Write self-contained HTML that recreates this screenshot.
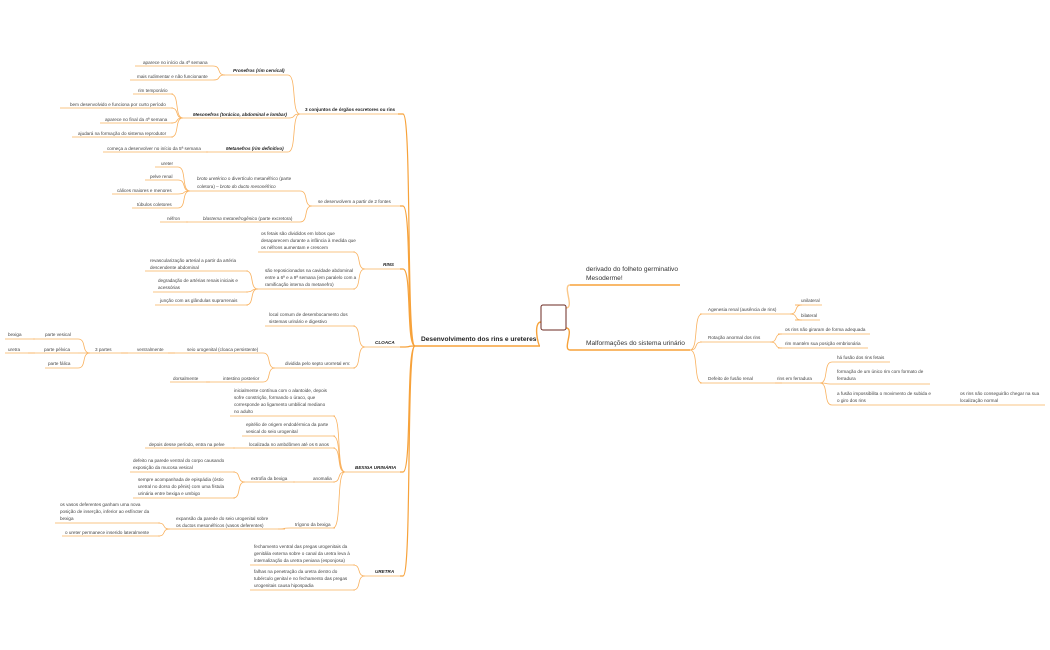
<!DOCTYPE html>
<html><head><meta charset="utf-8"><style>
html,body{margin:0;padding:0;background:#fff;}
svg{display:block;}
text{font-family:"Liberation Sans",sans-serif;font-size:4.6px;fill:#444;}
.b{font-weight:bold;fill:#222;}
.i{font-style:italic;}
.r{font-size:6.6px;font-weight:bold;fill:#222;}
.big{font-size:6.6px;fill:#333;}
</style></head><body>
<svg id="s" width="1050" height="650" viewBox="0 0 1050 650" xmlns="http://www.w3.org/2000/svg">
<g id="lines" fill="none" stroke="#f9b15e" stroke-width="0.8"></g>
<rect x="541" y="305" width="25" height="25" rx="2" fill="#fff" stroke="#6b2a22" stroke-width="1"/>
<text class="r" x="421" y="341">Desenvolvimento dos rins e ureteres</text>
<text class="b" x="305" y="111">3 conjuntos de órgãos excretores ou rins</text>
<text class="b i" x="233" y="72">Pronefros (rim cervical)</text>
<text x="143" y="64">aparece no início da 4ª semana</text>
<text x="137" y="78">mais rudimentar e não funcionante</text>
<text class="b i" x="193" y="116">Mesonefros (torácico, abdominal e lombar)</text>
<text x="138" y="92">rim temporário</text>
<text x="70" y="106">bem desenvolvido e funciona por curto período</text>
<text x="105" y="121">aparece no final da 4ª semana</text>
<text x="78" y="135">ajudará na formação do sistema reprodutor</text>
<text class="b i" x="226" y="150">Metanefros (rim definitivo)</text>
<text x="107" y="150">começa a desenvolver no início da 5ª semana</text>
<text x="318" y="203">se desenvolvem a partir de 2 fontes</text>
<text x="197" y="180"><tspan class="i">broto uretérico</tspan> o divertículo metanéfrico (parte</text>
<text x="197" y="188">coletora) – <tspan class="i">broto do ducto mesonéfrico</tspan></text>
<text x="161" y="165">ureter</text>
<text x="150" y="178">pelve renal</text>
<text x="117" y="192">cálices maiores e menores</text>
<text x="137" y="206">túbulos coletores</text>
<text x="203" y="220"><tspan class="i">blastema metanefrogênico</tspan> (parte excretora)</text>
<text x="167" y="220">néfron</text>
<text class="b i" x="383" y="266">RINS</text>
<text x="261" y="235">os fetais são divididos em lobos que</text>
<text x="261" y="242">desaparecem durante a infância à medida que</text>
<text x="261" y="249">os néfrons aumentam e crescem</text>
<text x="265" y="272">são reposicionados na cavidade abdominal</text>
<text x="265" y="279">entre a 6ª e a 9ª semana (em paralelo com a</text>
<text x="265" y="286">ramificação interna do metanefro)</text>
<text x="150" y="262">revascularização arterial a partir da artéria</text>
<text x="150" y="269">descendente abdominal</text>
<text x="158" y="282">degradação de artérias renais iniciais e</text>
<text x="158" y="289">acessórias</text>
<text x="160" y="302">junção com as glândulas suprarrenais</text>
<text class="b i" x="375" y="344">CLOACA</text>
<text x="269" y="316">local comum de desembocamento dos</text>
<text x="269" y="323">sistemas urinário e digestivo</text>
<text x="285" y="365">dividida pelo septo urorretal em:</text>
<text x="187" y="351">seio urogenital (cloaca persistente)</text>
<text x="223" y="380">intestino posterior</text>
<text x="137" y="351">ventralmente</text>
<text x="173" y="380">dorsalmente</text>
<text x="95" y="351">3 partes</text>
<text x="45" y="336">parte vesical</text>
<text x="44" y="351">parte pélvica</text>
<text x="48" y="365">parte fálica</text>
<text x="8" y="336">bexiga</text>
<text x="8" y="351">uretra</text>
<text class="b i" x="355" y="469">BEXIGA URINÁRIA</text>
<text x="234" y="392">inicialmente contínua com o alantoide, depois</text>
<text x="234" y="399">sofre constrição, formando o úraco, que</text>
<text x="234" y="406">corresponde ao ligamento umbilical mediano</text>
<text x="234" y="413">no adulto</text>
<text x="246" y="426">epitélio de origem endodérmica da parte</text>
<text x="246" y="433">vesical do seio urogenital</text>
<text x="249" y="446">localizada no ambdômen até os 6 anos</text>
<text x="149" y="446">depois desse período, entra na pelve</text>
<text x="313" y="480">anomalia</text>
<text x="251" y="480">extrofia da bexiga</text>
<text x="133" y="462">defeito na parede ventral do corpo causando</text>
<text x="133" y="469">exposição da mucosa vesical</text>
<text x="138" y="481">sempre acompanhada de epispádia (óstio</text>
<text x="138" y="488">uretral no dorso do pênis) com uma fístula</text>
<text x="138" y="495">urinária entre bexiga e umbigo</text>
<text x="295" y="526">trígono da bexiga</text>
<text x="176" y="520">expansão da parede do seio urogenital sobre</text>
<text x="176" y="527">os ductos mesonéfricos (vasos deferentes)</text>
<text x="60" y="506">os vasos deferentes ganham uma nova</text>
<text x="60" y="513">posição de inserção, inferior ao esfíncter da</text>
<text x="60" y="520">bexiga</text>
<text x="65" y="534">o ureter permanece inserido lateralmente</text>
<text class="b i" x="375" y="573">URETRA</text>
<text x="254" y="548">fechamento ventral das pregas urogenitais da</text>
<text x="254" y="555">genitália externa sobre o canal da uretra leva à</text>
<text x="254" y="562">internalização da uretra peniana (esponjosa)</text>
<text x="254" y="573">falhas na penetração da uretra dentro do</text>
<text x="254" y="580">tubérculo genital e no fechamento das pregas</text>
<text x="254" y="587">urogenitais causa hipospadia</text>
<text class="big" x="586" y="271">derivado do folheto germinativo</text>
<text class="big" x="586" y="280">Mesoderme!</text>
<text class="big" x="586" y="345">Malformações do sistema urinário</text>
<text x="708" y="311">Agenesia renal (ausência de rins)</text>
<text x="801" y="302">unilateral</text>
<text x="801" y="317">bilateral</text>
<text x="708" y="339">Rotação anormal dos rins</text>
<text x="785" y="331">os rins não giraram de forma adequada</text>
<text x="785" y="345">rim mantém sua posição embrionária</text>
<text x="708" y="380">Defeito de fusão renal</text>
<text x="777" y="380">rins em ferradura</text>
<text x="837" y="359">há fusão dos rins fetais</text>
<text x="837" y="373">formação de um único rim com formato de</text>
<text x="837" y="380">ferradura</text>
<text x="837" y="395">a fusão impossibilita o movimento de subida e</text>
<text x="837" y="402">o giro dos rins</text>
<text x="960" y="395">os rins não conseguirão chegar na sua</text>
<text x="960" y="402">localização normal</text>
</svg>
<script>
var N={root:[415,540,346],c3:[300,398,114],sd:[312,400,206],rins:[365,400,269],clo:[365,400,347],bex:[345,400,472],ure:[365,400,576],
pro:[225,285,75],p1:[135,213,66],p2:[130,213,80],mes:[183,285,118],m1:[133,173,94],m2:[60,173,108],m3:[100,173,123],m4:[72,173,137],
met:[218,285,152],mt1:[103,208,152],bro:[190,300,191],b1:[155,178,167],b2:[145,178,180],b3:[112,178,194],b4:[132,178,208],bla:[198,300,222],nef:[160,188,222],
r1:[258,355,252],r2:[258,355,289],r21:[145,248,271],r22:[153,248,292],r23:[155,248,305],
cl1:[265,355,326],cl2:[275,355,368],seio:[180,263,353],int:[218,263,382],ven:[133,175,353],dor:[170,210,382],tp:[90,128,353],pv:[45,78,339],pp:[40,78,353],pf:[45,78,368],bx:[5,35,339],ur:[5,35,353],
x1:[230,335,416],x2:[242,335,436],x3:[245,335,448],x31:[145,235,448],an:[305,335,482],ext:[245,295,482],e1:[130,235,472],e2:[133,235,498],tri:[290,335,528],exp:[170,285,529],t1:[55,160,523],t2:[62,160,536],
u1:[250,355,565],u2:[250,355,590],
der:[570,680,285],mal:[570,690,350],ag:[700,790,314],un:[795,822,305],bi:[795,820,320],rot:[700,770,342],ro1:[778,870,334],ro2:[778,868,348],def:[700,770,383],fer:[775,820,383],f1:[832,890,362],f2:[832,930,384],f3:[832,935,405],f31:[955,1045,405]};
var L=[['c3','root'],['sd','root'],['rins','root'],['clo','root'],['bex','root'],['ure','root'],['pro','c3'],['p1','pro'],['p2','pro'],['mes','c3'],['m1','mes'],['m2','mes'],['m3','mes'],['m4','mes'],['met','c3'],['mt1','met'],
['bro','sd'],['b1','bro'],['b2','bro'],['b3','bro'],['b4','bro'],['bla','sd'],['nef','bla'],['r1','rins'],['r2','rins'],['r21','r2'],['r22','r2'],['r23','r2'],
['cl1','clo'],['cl2','clo'],['seio','cl2'],['int','cl2'],['ven','seio'],['dor','int'],['tp','ven'],['pv','tp'],['pp','tp'],['pf','tp'],['bx','pv'],['ur','pp'],
['x1','bex'],['x2','bex'],['x3','bex'],['x31','x3'],['an','bex'],['ext','an'],['e1','ext'],['e2','ext'],['tri','bex'],['exp','tri'],['t1','exp'],['t2','exp'],['u1','ure'],['u2','ure']];
var R=[['ag','mal'],['un','ag'],['bi','ag'],['rot','mal'],['ro1','rot'],['ro2','rot'],['def','mal'],['fer','def'],['f1','fer'],['f2','fer'],['f3','fer'],['f31','f3']];
var g=document.getElementById('lines'),h='';
function P(d,c,w){h+='<path d="'+d+'" stroke="'+(c||'#f9b15e')+'" stroke-width="'+(w||0.8)+'"/>';}
for(var k in N){var n=N[k];P('M'+n[0]+' '+n[2]+'H'+n[1],(k=='root'||k=='mal'||k=='der')?'#f7a23a':null,(k=='root'||k=='mal'||k=='der')?1.4:0.8);}
L.forEach(function(e){var c=N[e[0]],p=N[e[1]];var cx=c[1],cy=c[2],px=p[0],py=p[2];var m=px-12;
P('M'+cx+' '+cy+'H'+m+'C'+(px-3)+' '+cy+' '+(px-9)+' '+py+' '+px+' '+py,e[1]=='root'?'#f7a23a':null,e[1]=='root'?1.2:0.8);});
R.forEach(function(e){var p=N[e[1]],c=N[e[0]];var px=p[1],py=p[2],cx=c[0],cy=c[2];
P('M'+px+' '+py+'C'+(px+9)+' '+py+' '+(px+3)+' '+cy+' '+(px+12)+' '+cy+'H'+cx);});
P('M541 322C533 322 538 346 540 346','#f7a23a',1.4);
P('M566 308C575 308 562 285 570 285','#fbc88a',1.4);
P('M566 328C575 328 562 350 570 350','#f7a23a',1.4);
g.innerHTML=h;
</script>
</body></html>
